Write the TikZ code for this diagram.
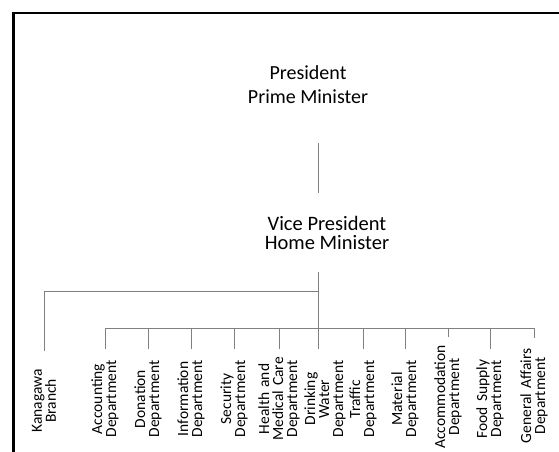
\documentclass[tikz,border=0pt]{standalone}
\usepackage{fontspec}
\setmainfont{Carlito}
\usetikzlibrary{positioning}

\begin{document}
\begin{tikzpicture}[
  x=1pt, y=-1pt,
  post/.style={align=center, inner sep=0pt, font=\fontsize{20}{24}\selectfont},
  dept/.style={rotate=90, text width=108pt, align=center, inner sep=0pt, outer xsep=-4pt, font=\fontsize{15.5}{14}\selectfont},
  link/.style={draw=black!50, line width=0.9pt}
]
\useasboundingbox (0,0) rectangle (559,452);
\draw[line width=2.5pt] (13.25,452) -- (13.25,13.25) -- (559,13.25);

\coordinate (spine) at (318,328);
\node[post, minimum height=116pt] (pres) at (308,85) {President\\Prime Minister};
\node[post, minimum height=79pt, font=\fontsize{20.5}{19}\selectfont] (vice) at (327,232.5) {Vice President\\Home Minister};

% departments
\node[dept] (kana) at (44,401) {Kanagawa\\Branch};
\node[dept] (acct) at (105,399) {Accounting\\Department};
\node[dept] (don) at (148,399) {Donation\\Department};
\node[dept] (info) at (191,399) {Information\\Department};
\node[dept] (sec) at (234,399) {Security\\Department};
\node[dept] (health) at (279,399) {Health and\\Medical Care\\Department};
\node[dept] (drink) at (325,399) {Drinking\\Water\\Department};
\node[dept] (traf) at (363,399) {Traffic\\Department};
\node[dept] (mat) at (405,399) {Material\\Department};
\node[dept] (accom) at (448,397) {Accommodation\\Department};
\node[dept] (food) at (490,399) {Food Supply\\Department};
\node[dept] (gen) at (534,396) {General Affairs\\Department};

\draw[link] (pres.south -| spine) -- (vice.north -| spine);
\draw[link] (vice.south -| spine) -- (drink.east -| spine);
\draw[link] (vice.south -| spine) ++(0,19) -| (kana.east);
\draw[link] (acct.east |- spine) -- (gen.east |- spine) -- ++(0,10);
\foreach \d in {acct,don,info,sec,health,traf,mat,food}
  \draw[link] (\d.east |- spine) -- (\d.east);
\draw[link] (accom.east |- spine) -- ++(0,9);
\end{tikzpicture}
\end{document}
